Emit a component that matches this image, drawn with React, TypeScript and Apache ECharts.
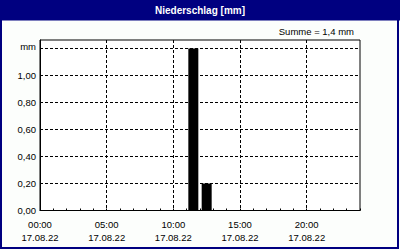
import React, { useEffect, useRef } from "react";
import * as echarts from "echarts";

const title = "Niederschlag [mm]";
const sumText = "Summe = 1,4 mm";
const dateLabel = "17.08.22";
// bar centers in hours (hour 11-12, 12-13) and precipitation in mm
const barHours = [11.5, 12.5];
const barValues = [1.2, 0.2];
const yTickValues = [0, 0.2, 0.4, 0.6, 0.8, 1.0];
const xLabelHours = [0, 5, 10, 15, 20];

const NAVY = "#000080";
const FONT = "Liberation Sans";

export default function App() {
  const ref = useRef<HTMLDivElement>(null);
  useEffect(() => {
    if (!ref.current) return;
    const chart = echarts.init(ref.current, undefined, { renderer: "svg" });
    const dashed = { color: "#000", type: [3, 2] as any, width: 1 };
    chart.setOption({
      animation: false,
      backgroundColor: "#fcfefc",
      textStyle: { fontFamily: FONT },
      grid: {
        left: 40,
        right: 40,
        top: 40,
        bottom: 39.5,
        show: true,
        backgroundColor: "#ffffff",
        borderColor: "#000",
        borderWidth: 1,
      },
      xAxis: [
        {
          type: "value",
          min: 0,
          max: 24,
          interval: 5,
          axisLine: { show: true, lineStyle: { color: "#000" } },
          axisTick: { show: false },
          splitLine: {
            show: true,
            lineStyle: dashed,
            showMaxLine: false,
            showMinLine: false,
          } as any,
          axisLabel: {
            color: "#000",
            fontFamily: FONT,
            fontSize: 9.5,
            lineHeight: 13.5,
            margin: 7,
            showMaxLabel: false,
            formatter: (v: number) =>
              xLabelHours.includes(v)
                ? `${String(v).padStart(2, "0")}:00\n${dateLabel}`
                : "",
          },
        },
        {
          type: "value",
          position: "bottom",
          min: 0,
          max: 24,
          interval: 1,
          axisLine: { show: false },
          axisTick: {
            show: true,
            inside: true,
            length: 2,
            lineStyle: { color: "#000" },
          },
          splitLine: { show: false },
          axisLabel: { show: false },
        },
      ],
      yAxis: {
        type: "value",
        min: 0,
        max: 1.263,
        interval: 0.2,
        axisLine: { show: true, lineStyle: { color: "#000" } },
        axisTick: { show: false },
        splitLine: {
          show: true,
          lineStyle: dashed,
          showMinLine: false,
          showMaxLine: false,
        } as any,
        axisLabel: {
          color: "#000",
          fontFamily: FONT,
          fontSize: 9.5,
          margin: 4,
          showMaxLabel: false,
          formatter: (v: number) => {
            if (Math.abs(v - 1.2) < 1e-6) return "{mm|mm}";
            const hit = yTickValues.find((t) => Math.abs(t - v) < 1e-6);
            return hit !== undefined ? hit.toFixed(2).replace(".", ",") : "";
          },
          rich: {
            mm: { fontFamily: FONT, fontSize: 9.5, color: "#000", padding: [0, 0, 5, 0] },
          },
        },
      },
      series: [
        {
          type: "bar",
          xAxisIndex: 0,
          barWidth: 10,
          itemStyle: { color: "#000" },
          data: barHours.map((h, i) => [h, barValues[i]]),
        },
      ],
      graphic: [
        {
          type: "rect",
          shape: { x: 0, y: 0, width: 400, height: 20.5 },
          style: { fill: NAVY },
          z: 10,
        },
        {
          type: "text",
          x: 200,
          y: 10,
          style: {
            text: title,
            fill: "#fff",
            font: `bold 10px "${FONT}"`,
            align: "center",
            verticalAlign: "middle",
          },
          z: 11,
        },
        {
          type: "rect",
          shape: { x: 1, y: 1, width: 397, height: 247 },
          style: { fill: "none", stroke: NAVY, lineWidth: 2 },
          z: 12,
        },
        {
          type: "text",
          x: 354,
          y: 31,
          style: {
            text: sumText,
            fill: "#000",
            font: `9.5px "${FONT}"`,
            align: "right",
            verticalAlign: "middle",
          },
          z: 11,
        },
      ],
    });
    return () => chart.dispose();
  }, []);
  return (
    <div
      ref={ref}
      style={{ position: "fixed", left: 0, top: 0, width: 400, height: 250 }}
    />
  );
}
